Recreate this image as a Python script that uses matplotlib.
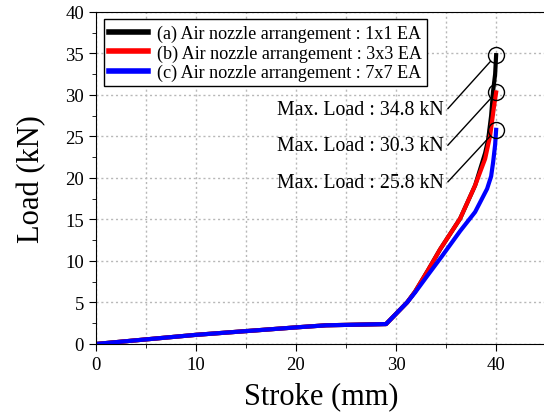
import matplotlib.pyplot as plt
from matplotlib.ticker import MultipleLocator

plt.rcParams['font.family'] = ['Liberation Serif', 'DejaVu Serif']

# stroke (mm) / load (kN)
stroke_a = [0, 10, 20, 23, 29, 31.1, 31.9, 33.2, 34.4, 36.4, 37.9, 38.9, 39.2, 39.5, 39.7, 39.9, 40.0]
load_a = [0, 1.1, 2.0, 2.25, 2.4, 5.0, 6.3, 8.9, 11.4, 15.1, 19.1, 23.0, 24.6, 27.5, 30.5, 32.5, 34.8]

stroke_b = [0, 10, 20, 23, 29, 31.1, 31.9, 33.2, 34.4, 36.4, 37.9, 38.9, 39.4, 39.8, 40.0]
load_b = [0, 1.1, 2.0, 2.25, 2.4, 5.0, 6.3, 8.9, 11.4, 15.1, 19.1, 22.3, 25.1, 28.7, 30.3]

stroke_c = [0, 10, 20, 23, 29, 31.1, 31.9, 33.3, 34.6, 36.4, 37.9, 38.5, 39.1, 39.5, 39.7, 39.9, 40.0]
load_c = [0, 1.1, 2.0, 2.25, 2.4, 5.0, 6.2, 8.5, 10.6, 13.6, 15.9, 17.3, 18.7, 20.2, 21.9, 24.0, 25.8]

labels = ["(a) Air nozzle arrangement : 1x1 EA",
          "(b) Air nozzle arrangement : 3x3 EA",
          "(c) Air nozzle arrangement : 7x7 EA"]
colors = ["black", "red", "blue"]
max_loads = [34.8, 30.3, 25.8]
text_y = [28.3, 23.9, 19.5]

fig = plt.figure(figsize=(5.44, 4.14), dpi=100)
ax = fig.add_axes([0.176, 0.1667, 0.828, 0.802])

for s, l, c, lab in zip([stroke_a, stroke_b, stroke_c], [load_a, load_b, load_c], colors, labels):
    ax.plot(s, l, color=c, lw=3, label=lab, solid_joinstyle='round')

# circles + callouts at the max load
for m, ty in zip(max_loads, text_y):
    ax.plot(40, m, 'o', mfc='none', mec='black', ms=11.5, mew=1)
    ax.annotate(f"Max. Load : {m} kN", xy=(40, m), xytext=(34.8, ty),
                ha='right', va='center', fontsize=14.3,
                arrowprops=dict(arrowstyle='-', color='black', lw=1,
                                shrinkA=1, shrinkB=6, relpos=(1, 0.3)))

ax.set_xlim(0, 45)
ax.set_ylim(0, 40)
ax.xaxis.set_major_locator(MultipleLocator(10))
ax.xaxis.set_minor_locator(MultipleLocator(5))
ax.yaxis.set_major_locator(MultipleLocator(5))
ax.yaxis.set_minor_locator(MultipleLocator(2.5))
ax.grid(True, which='major', axis='y', linestyle=(0, (1.5, 2)), color='#b8b8b8', lw=1)
ax.grid(True, which='both', axis='x', linestyle=(0, (1.5, 2)), color='#b8b8b8', lw=1)
ax.set_axisbelow(True)
ax.tick_params(which='major', direction='out', length=5, labelsize=13.5)
ax.tick_params(which='minor', direction='out', length=3)

ax.set_xlabel("Stroke (mm)", fontsize=22, labelpad=6)
ax.set_ylabel("Load (kN)", fontsize=22, labelpad=14)

leg = ax.legend(loc='upper left', bbox_to_anchor=(0.018, 0.978), fontsize=13.1,
                frameon=True, fancybox=False, edgecolor='black', framealpha=1,
                handlelength=2.1, borderpad=0.3, labelspacing=0.12,
                handletextpad=0.5, borderaxespad=0)
leg.get_frame().set_linewidth(1)
for line in leg.get_lines():
    line.set_linewidth(4)

fig.savefig("out.png", dpi=100)
